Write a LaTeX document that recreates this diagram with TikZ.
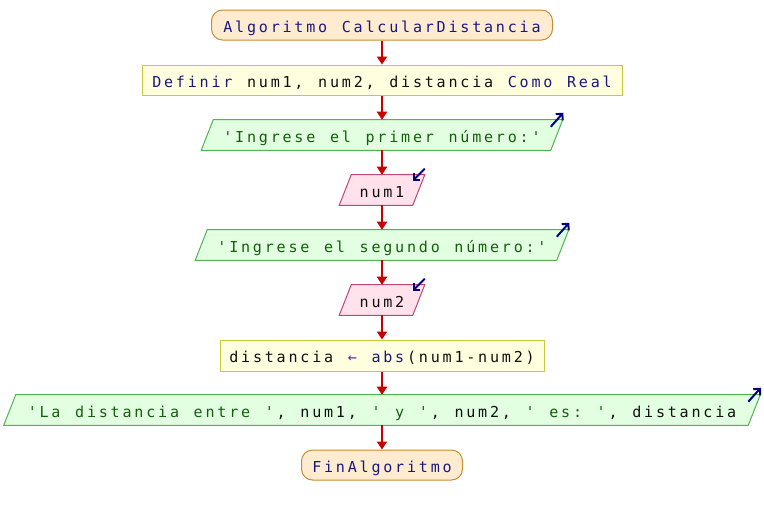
\documentclass[tikz,border=0pt]{standalone}
\usepackage{fontspec}
\setmonofont{DejaVu Sans Mono}
\usetikzlibrary{arrows.meta,backgrounds}
\definecolor{kw}{RGB}{25,25,125}
\definecolor{vr}{RGB}{15,15,15}
\definecolor{st}{RGB}{20,95,10}
\definecolor{op}{RGB}{100,40,140}
\definecolor{termfill}{RGB}{255,236,208}
\definecolor{termdraw}{RGB}{200,140,50}
\definecolor{procfill}{RGB}{255,255,224}
\definecolor{procdraw}{RGB}{200,200,60}
\definecolor{outfill}{RGB}{226,255,226}
\definecolor{outdraw}{RGB}{80,180,80}
\definecolor{infill}{RGB}{255,226,236}
\definecolor{indraw}{RGB}{190,70,120}
\definecolor{flowred}{RGB}{200,0,0}
\definecolor{ionavy}{RGB}{0,0,128}
\newlength\chw \setlength\chw{8.89pt}
\newcommand\pxu{0.75pt}
\ExplSyntaxOn
\NewDocumentCommand\mt{m}{\str_map_inline:nn{#1}{\makebox[\chw][c]{##1}}}
\ExplSyntaxOff
\newcommand\sk{\hspace*{\chw}}
\tikzset{
  base/.style={font=\ttfamily\fontsize{11.3}{13}\selectfont, inner sep=0pt, text height=11pt, text depth=0.5pt, minimum height=30*\pxu},
  term/.style={base, draw=termdraw, fill=termfill, line width=0.75pt, rounded corners=11*\pxu},
  proc/.style={base, draw=procdraw, fill=procfill, line width=0.75pt},
  ionode/.style={base},
  outshape/.style={draw=outdraw, fill=outfill, line width=0.75pt},
  inshape/.style={draw=indraw, fill=infill, line width=0.75pt},
  flow/.style={draw=flowred, line width=1.5pt, -{Triangle[length=6pt,width=7.5pt]}},
  ioarr/.style={draw=ionavy, line width=1.5pt, -{Straight Barb[length=3.5pt,width=7pt]}},
}
\begin{document}
\begin{tikzpicture}[x=0.75pt,y=-0.75pt]
\useasboundingbox (0,0) rectangle (764,515);
\node[term, minimum width=341*\pxu] (start) at (382,25) {{\color{kw}\mt{Algoritmo}\sk\mt{CalcularDistancia}}};
\node[proc, minimum width=480*\pxu] (def) at (382,80) {{\color{kw}\mt{Definir}}\sk{\color{vr}\mt{num1,}\sk\mt{num2,}\sk\mt{distancia}}\sk{\color{kw}\mt{Como}\sk\mt{Real}}};
\node[ionode, minimum width=349*\pxu] (out1) at (382,135) {{\color{st}\mt{'Ingrese el primer número:'}}};
\node[ionode, minimum width=73*\pxu] (in1) at (382,190) {{\color{vr}\mt{num1}}};
\node[ionode, minimum width=361*\pxu] (out2) at (382,245) {{\color{st}\mt{'Ingrese el segundo número:'}}};
\node[ionode, minimum width=73*\pxu] (in2) at (382,300) {{\color{vr}\mt{num2}}};
\node[proc, minimum width=324*\pxu, minimum height=31*\pxu] (asg) at (382,355.5) {{\color{vr}\mt{distancia}}\sk{\color{op}\mt{←}}\sk{\color{kw}\mt{abs}}{\color{vr}\mt{(num1-num2)}}};
\node[ionode, minimum width=744*\pxu] (out3) at (382,410) {{\color{st}\mt{'La distancia entre '}}{\color{vr}\mt{,}\sk\mt{num1,}\sk}{\color{st}\mt{' y '}}{\color{vr}\mt{,}\sk\mt{num2,}\sk}{\color{st}\mt{' es: '}}{\color{vr}\mt{,}\sk\mt{distancia}}};
\node[term, minimum width=161*\pxu] (fin) at (382,465) {{\color{kw}\mt{FinAlgoritmo}}};
\begin{scope}[on background layer]
\fill[white] (0,0) rectangle (764,515);
\foreach \n/\s/\k in {out1/6/outshape,in1/6/inshape,out2/6/outshape,in2/6/inshape,out3/6/outshape}{
  \path[\k] ([xshift=-\s*\pxu]\n.south west) -- ([xshift=\s*\pxu]\n.north west) -- ([xshift=\s*\pxu]\n.north east) -- ([xshift=-\s*\pxu]\n.south east) -- cycle;
}
\end{scope}
\foreach \n in {out1,out2,out3}{
  \draw[ioarr] ([xshift=-6*\pxu,yshift=-7*\pxu]\n.north east) -- ([xshift=6.5*\pxu,yshift=7*\pxu]\n.north east);
}
\foreach \n in {in1,in2}{
  \draw[ioarr] ([xshift=6*\pxu,yshift=6*\pxu]\n.north east) -- ([xshift=-6*\pxu,yshift=-6*\pxu]\n.north east);
}
\draw[flow] (start) -- (def);
\draw[flow] (def) -- (out1);
\draw[flow] (out1) -- (in1);
\draw[flow] (in1) -- (out2);
\draw[flow] (out2) -- (in2);
\draw[flow] (in2) -- (asg);
\draw[flow] (asg) -- (out3);
\draw[flow] (out3) -- (fin);
\end{tikzpicture}
\end{document}
